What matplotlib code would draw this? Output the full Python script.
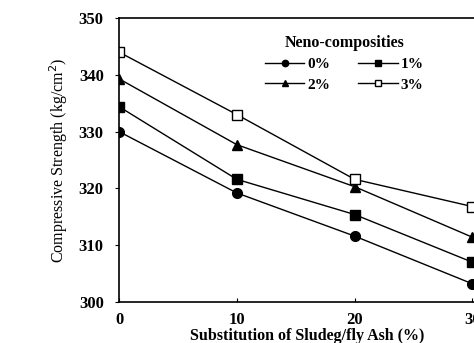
import matplotlib
matplotlib.use("Agg")
import matplotlib.pyplot as plt

x = [0, 10, 20, 30]
s0 = [330.0, 319.2, 311.6, 303.2]
s1 = [334.4, 321.6, 315.4, 307.0]
s2 = [339.3, 327.7, 320.3, 311.4]
s3 = [344.0, 333.0, 321.6, 316.8]
labels = ["0%", "1%", "2%", "3%"]
xticks = [0, 10, 20, 30]
yticks = [300, 310, 320, 330, 340, 350]

plt.rcParams['font.family'] = ['Liberation Serif', 'DejaVu Serif']

fig = plt.figure(figsize=(4.74, 3.43), dpi=100)
ax = fig.add_axes([119/474, 1-302/343, 377/474, (302-18)/343])

ms = 7
h0, = ax.plot(x, s0, '-o', color='black', lw=1, ms=ms, label=labels[0])
h1, = ax.plot(x, s1, '-s', color='black', lw=1, ms=ms, label=labels[1])
h2, = ax.plot(x, s2, '-^', color='black', lw=1, ms=ms, label=labels[2])
h3, = ax.plot(x, s3, '-s', color='black', lw=1, ms=ms, mfc='white', label=labels[3])

ax.set_xlim(0, 32)
ax.set_ylim(300, 350)
ax.set_xticks(xticks)
ax.set_yticks(yticks)
ax.tick_params(axis='x', direction='in', length=3, labelsize=12, pad=7)
ax.tick_params(axis='y', direction='out', length=3, labelsize=12, pad=8)
for t in ax.get_xticklabels() + ax.get_yticklabels():
    t.set_fontweight('bold')
for sp in ax.spines.values():
    sp.set_linewidth(1.2)

ax.set_xlabel("Substitution of Sludeg/fly Ash (%)", fontsize=11.5, fontweight='bold', labelpad=0)
ax.set_ylabel("Compressive Strength (kg/cm$^2$)", fontsize=11.5, labelpad=6)

leg = ax.legend([h0, h2, h1, h3], [labels[0], labels[2], labels[1], labels[3]],
                ncol=2, frameon=False, title="Neno-composities",
                loc='upper left', bbox_to_anchor=(0.35, 0.99),
                prop={'weight': 'bold', 'size': 11}, markerscale=0.65,
                handlelength=2.6, columnspacing=1.8, labelspacing=0.45,
                handletextpad=0.2)
leg.get_title().set_fontweight('bold')
leg.get_title().set_fontsize(11.5)

fig.savefig("out.png", dpi=100)
